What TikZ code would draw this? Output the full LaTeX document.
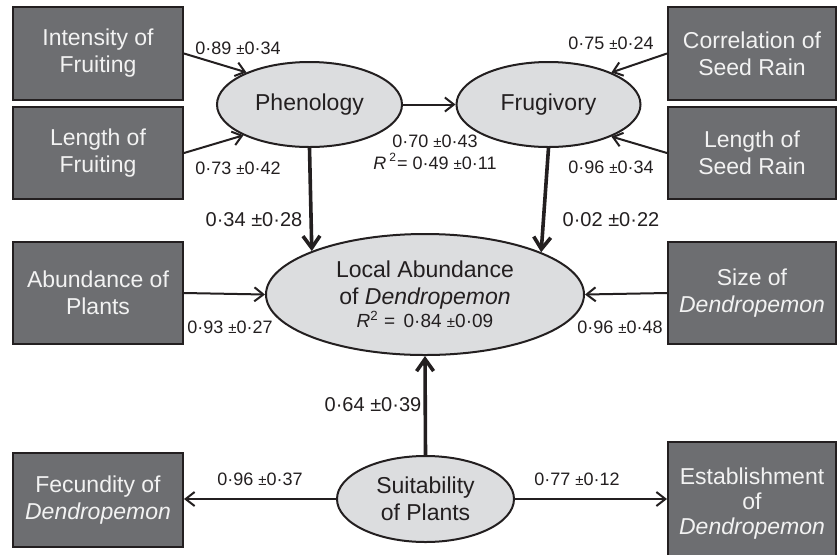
\documentclass[tikz,border=0pt]{standalone}
\usepackage{fontspec}
\setmainfont{Liberation Sans}
\usepackage{tikz}
\usetikzlibrary{positioning,arrows.meta,shapes.geometric}
\definecolor{boxgray}{HTML}{6D6E71}
\definecolor{ellgray}{HTML}{DCDDDF}
\definecolor{ink}{HTML}{231F20}
\newcommand{\pmsm}{{\fontsize{7.5}{9}\selectfont ±}}

\begin{document}
\begin{tikzpicture}[x=0.5pt, y=-0.5pt,
    factor/.style={draw=ink, line width=1pt, fill=boxgray, text=white!95!black,
                   minimum width=85pt, minimum height=46.5pt, inner sep=2pt,
                   align=center, font=\fontsize{11.5}{13.5}\selectfont},
    latent/.style={ellipse, draw=ink, line width=1pt, fill=ellgray, text=ink,
                   inner sep=0pt, align=center, font=\fontsize{11.5}{13.5}\selectfont},
    link/.style={draw=ink, line width=1pt, -{Straight Barb[length=4.5pt,width=7pt]}},
    mainlink/.style={draw=ink, line width=1.8pt, -{Straight Barb[length=6pt,width=8.5pt]}},
    coef/.style={text=ink, font=\fontsize{9}{11}\selectfont, inner sep=0pt, align=center},
    bigcoef/.style={text=ink, font=\fontsize{10}{12}\selectfont, inner sep=0pt}
  ]
    \useasboundingbox (0,0) rectangle (837,554);
    \fill[white] (0,0) rectangle (837,554);

    % Latent variables
    \node[latent, minimum width=92.5pt, minimum height=42.5pt] (phen) at (309.5,104.5) {Phenology};
    \node[latent, minimum width=92pt, minimum height=42.5pt] (frug) at (548.5,104.5) {Frugivory};
    \node[latent, minimum width=159pt, minimum height=60.5pt] (local) at (425,294.5) {
      Local Abundance\\
      of \textit{Dendropemon}\\[-2pt]
      {\fontsize{9.5}{11}\selectfont \textit{R}\textsuperscript{2} = \,0·84 \pmsm0·09}
    };
    \node[latent, minimum width=88.5pt, minimum height=43pt] (suit) at (425.5,499) {Suitability\\of Plants};

    % Left column
    \node[factor] (intens) at (98,53.5) {Intensity of\\Fruiting};
    \node[factor, minimum height=46pt] (lenfr) at (98,153) {Length of\\Fruiting};
    \node[factor, minimum height=51pt] (abund) at (98,293) {Abundance of\\Plants};
    \node[factor, minimum height=47pt] (fecund) at (98,500) {Fecundity of\\\textit{Dendropemon}};

    % Right column
    \node[factor, minimum width=84pt] (corr) at (752,53.5) {Correlation of\\Seed Rain};
    \node[factor, minimum width=84pt, minimum height=46pt] (lenrain) at (752,153) {Length of\\Seed Rain};
    \node[factor, minimum width=84pt, minimum height=51pt] (size) at (752,293) {Size of\\\textit{Dendropemon}};
    \node[factor, minimum width=84pt, minimum height=62pt, font=\fontsize{11.5}{12.5}\selectfont] (estab) at (752,504) {Establishment\\of\\\textit{Dendropemon}};

    % Paths
    \draw[link] (intens.east) -- (phen.153);
    \draw[link] (lenfr.east) -- (phen.205);
    \draw[link] (corr.west) -- (frug.27);
    \draw[link] (lenrain.west) -- (frug.333);
    \draw[link] (phen.east) -- (frug.west);
    \draw[mainlink] (phen.south) -- (local.159);
    \draw[mainlink] (frug.south) -- (local.20);
    \draw[link] (abund.east) -- (local.west);
    \draw[link] (size.west) -- (local.east);
    \draw[mainlink] (suit.north) -- (local.south);
    \draw[link] (suit.west) -- (suit.west -| fecund.east);
    \draw[link] (suit.east) -- (suit.east -| estab.west);

    % Coefficients
    \node[coef] (c1) at (238,48) {0·89 \pmsm0·34};
    \node[coef] (c2) at (238,168) {0·73 \pmsm0·42};
    \node[coef] (c3) at (611,43) {0·75 \pmsm0·24};
    \node[coef] (c4) at (611,167) {0·96 \pmsm0·34};
    \node[coef] (c5) at (435,152) {0·70 \pmsm0·43\\\textit{R}\,\textsuperscript{2}= 0·49 \pmsm0·11};
    \node[bigcoef] (c6) at (254,220) {0·34 ±0·28};
    \node[bigcoef] (c7) at (611,220) {0·02 ±0·22};
    \node[coef] (c8) at (230,327) {0·93 \pmsm0·27};
    \node[coef] (c9) at (620,327) {0·96 \pmsm0·48};
    \node[bigcoef] (c10) at (373,405) {0·64 ±0·39};
    \node[coef] (c11) at (260,479) {0·96 \pmsm0·37};
    \node[coef] (c12) at (577,479) {0·77 \pmsm0·12};
  \end{tikzpicture}
\end{document}
